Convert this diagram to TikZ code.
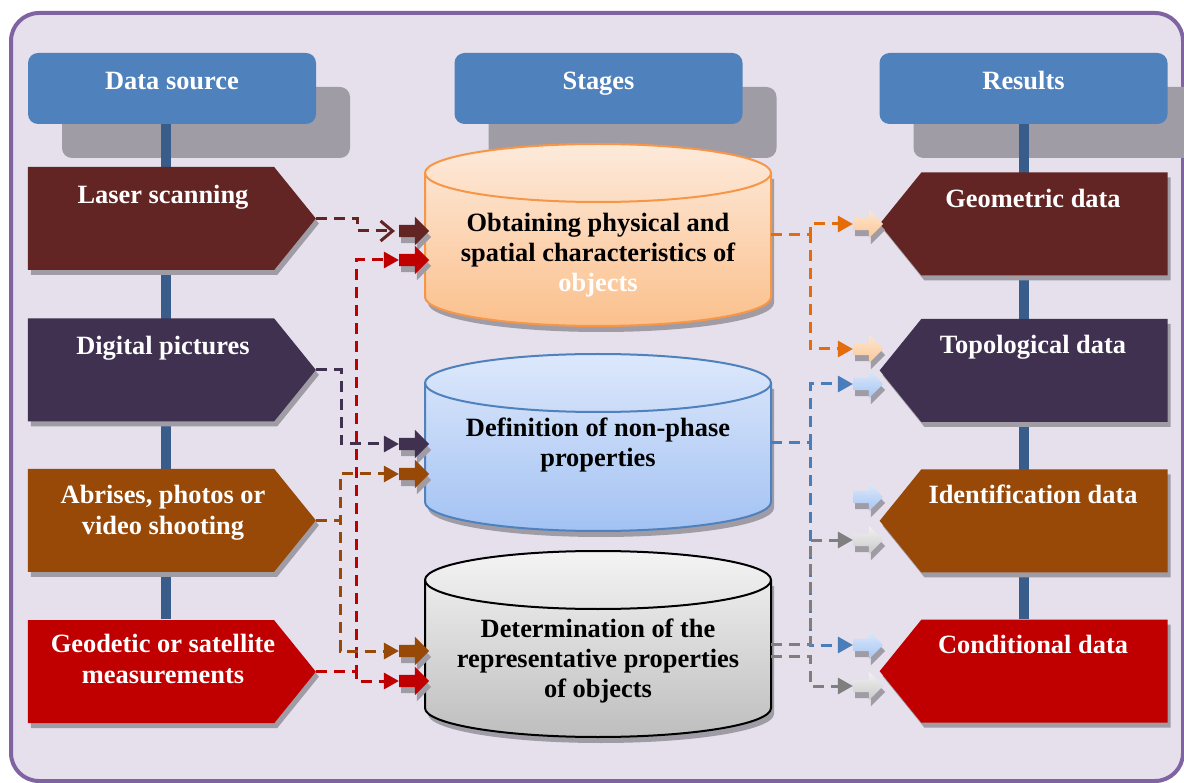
\documentclass[tikz,border=0pt]{standalone}
\usepackage{fontspec}
\setmainfont{Liberation Serif}
\usetikzlibrary{arrows.meta,shapes.symbols,shapes.arrows,shadows,positioning}

\definecolor{framefill}{HTML}{E5E0EC}
\definecolor{frameline}{HTML}{8064A2}
\definecolor{headblue}{HTML}{4F81BD}
\definecolor{shadowgray}{HTML}{A09CA5}
\definecolor{spineblue}{HTML}{385D8A}
\definecolor{laserred}{HTML}{632523}
\definecolor{pictpurple}{HTML}{403151}
\definecolor{shootbrown}{HTML}{984807}
\definecolor{geored}{HTML}{C00000}
\definecolor{linkorange}{HTML}{E46C0A}
\definecolor{linkblue}{HTML}{4A7EBB}
\definecolor{linkgray}{HTML}{7F7F7F}
\definecolor{obtaintop}{HTML}{FDEADB}
\definecolor{obtainbot}{HTML}{FBC08C}
\definecolor{obtainline}{HTML}{F79646}
\definecolor{definetop}{HTML}{DDE8FB}
\definecolor{definebot}{HTML}{A3C2F3}
\definecolor{defineline}{HTML}{4F81BD}
\definecolor{determtop}{HTML}{F4F4F4}
\definecolor{determbot}{HTML}{BEBEBE}
\definecolor{determline}{HTML}{000000}
\definecolor{peachtop}{HTML}{FEE6D0}
\definecolor{peachbot}{HTML}{FAC796}
\definecolor{skytop}{HTML}{DCE8FA}
\definecolor{skybot}{HTML}{A6C6F4}
\definecolor{silvertop}{HTML}{F2F2F2}
\definecolor{silverbot}{HTML}{C9C9C9}

\tikzset{bigfont/.style={font=\fontsize{26.4}{31}\selectfont\bfseries},
    headbox/.style={fill=headblue,rounded corners=10pt,minimum width=288pt,minimum height=71pt,inner sep=0,
        text=white,bigfont,text height=13pt,text depth=10pt,
        drop shadow={shadow xshift=34pt,shadow yshift=-34pt,fill=shadowgray,opacity=1}},
    srcbox/.style={signal,signal to=east,signal pointer angle=102,fill=#1,minimum width=288pt,minimum height=103pt,inner sep=0,
        drop shadow={shadow xshift=3pt,shadow yshift=-5pt,fill=shadowgray,opacity=1}},
    resbox/.style={srcbox=#1,signal to=west},
    boxtext/.style={bigfont,text=white,align=center,inner sep=0},
    stagetext/.style={font=\fontsize{26.4}{30}\selectfont\bfseries,align=center,inner sep=0},
    fatarrow/.style={single arrow,minimum height=30pt,inner xsep=0,inner ysep=6pt,single arrow head extend=8pt,
        drop shadow={shadow xshift=2pt,shadow yshift=-6pt,fill=shadowgray,opacity=1}},
    link/.style={draw=#1,line width=3pt,dash pattern=on 11pt off 7pt,-{Triangle[length=15pt,width=16pt]}},
    spine/.style={spineblue,line width=10pt}
}

\newcommand{\stagecylinder}[4]
{
% args: (node name, y of upper end, y of lower end, colour prefix)
    \pgfmathsetmacro\cylmid{(#2+#3)/2}
    \pgfmathsetmacro\cylheight{#3-#2}

    \fill [shadowgray] (428,#2+6) -- (428,#3+6) arc [start angle=180,end angle=360,x radius=173pt,y radius=29pt] -- (774,#2+6) -- cycle;
    \shadedraw [top color=#4top,bottom color=#4bot,draw=#4line,line width=2pt] (425,#2) -- (425,#3)
        arc [start angle=180,end angle=360,x radius=173pt,y radius=29pt] -- (771,#2)
        arc [start angle=0,end angle=180,x radius=173pt,y radius=29pt] -- cycle;
    \draw [#4line,line width=2pt] (425,#2) arc [start angle=180,end angle=360,x radius=173pt,y radius=29pt];

    \node (#1) [inner sep=0,minimum width=346pt,minimum height=\cylheight pt] at (598,\cylmid) {};
}

\begin{document}
\begin{tikzpicture}[x=1pt,y=-1pt]
\useasboundingbox (0,0) rectangle (1184,783);

\draw [frameline,fill=framefill,line width=4pt,rounded corners=28pt] (11,13) rectangle (1183,781);

% column heads

\node (srchead) [headbox] at (172,88.5) {Data source};
\node (stghead) [headbox] at (598.5,88.5) {Stages};
\node (reshead) [headbox] at (1023.5,88.5) {Results};

\draw [spine] ([xshift=-6pt]srchead.south) -- ++(0,-495pt);
\draw [spine] (reshead.south) -- ++(0,-495pt);

% data sources

\node (src1) [srcbox=laserred] at (151,218.5) {};
\node (src2) [srcbox=pictpurple,below=48pt of src1] {};
\node (src3) [srcbox=shootbrown,below=47pt of src2] {};
\node (src4) [srcbox=geored,below=48pt of src3] {};

\node (src1txt) [boxtext] at (163,197) {Laser scanning};
\node (src2txt) [boxtext] at (163,348) {Digital pictures};
\node (src3txt) [boxtext] at (163,513) {Abrises, photos or\\video shooting};
\node (src4txt) [boxtext] at (163,659) {Geodetic or satellite\\measurements};

% results

\node (res1) [resbox=laserred] at (1044.5,224) {};
\node (res2) [resbox=pictpurple,below=43pt of res1] {};
\node (res3) [resbox=shootbrown,below=47pt of res2] {};
\node (res4) [resbox=geored,below=47pt of res3] {};

\node (res1txt) [boxtext] at (1033,198) {Geometric data};
\node (res2txt) [boxtext] at (1033,347) {Topological data};
\node (res3txt) [boxtext] at (1033,494) {Identification data};
\node (res4txt) [boxtext] at (1033,644) {Conditional data};

% stages

\stagecylinder{stage1}{173}{297}{obtain}
\stagecylinder{stage2}{383}{502}{define}
\stagecylinder{stage3}{580}{708}{determ}

\node (stage1txt) [stagetext] at (598,255) {Obtaining physical and\\spatial characteristics of\\\textcolor{white}{objects}};
\node (stage2txt) [stagetext] at (598,445) {Definition of non-phase\\properties};
\node (stage3txt) [stagetext] at (598,661) {Determination of the\\representative properties\\of objects};

% block arrows

\foreach \name/\y/\col in {in1/231/laserred,in2/260/geored,in3/444/pictpurple,in4/474/shootbrown,in5/651/shootbrown,in6/681/geored}
    \node (\name) [fatarrow,fill=\col] at (411,\y) {};

\foreach \name/\y/\ctop/\cbot in {out1/224/peachtop/peachbot,out2/349/peachtop/peachbot,out3/384/skytop/skybot,
    out4/497/skytop/skybot,out5/540/silvertop/silverbot,out6/645/skytop/skybot,out7/686/silvertop/silverbot}
    \node (\name) [fatarrow,top color=\ctop,bottom color=\cbot] at (865,\y) {};

% dashed links

\draw [link=laserred,-{Straight Barb[length=12pt,width=20pt]}] (src1.east) -- ++(41pt,0) |- ([xshift=-4pt]in1.tail);
\draw [link=geored] (src4.east) -- ++(40pt,0) |- (in2.tail);
\draw [link=geored] (src4.east) -- ++(40pt,0) |- (in6.tail);
\draw [link=pictpurple] (src2.east) -- ++(25pt,0) |- (in3.tail);
\draw [link=shootbrown] (src3.east) -- ++(24pt,0) |- (in4.tail);
\draw [link=shootbrown] (src3.east) -- ++(24pt,0) |- (in5.tail);

\draw [link=linkorange] (stage1.east) -- ++(39pt,0) |- (out1.tail);
\draw [link=linkorange] (stage1.east) -- ++(39pt,0) |- (out2.tail);
\draw [link=linkblue] (stage2.east) -- ++(39pt,0) |- (out3.tail);
\draw [link=linkblue] (stage2.east) -- ++(39pt,0) |- (out6.tail);
\draw [link=linkgray] (stage3.east) -- ++(39pt,0) |- (out5.tail);
\draw [link=linkgray] ([yshift=-12pt]stage3.east) -- ++(39pt,0) |- (out7.tail);

\end{tikzpicture}
\end{document}
